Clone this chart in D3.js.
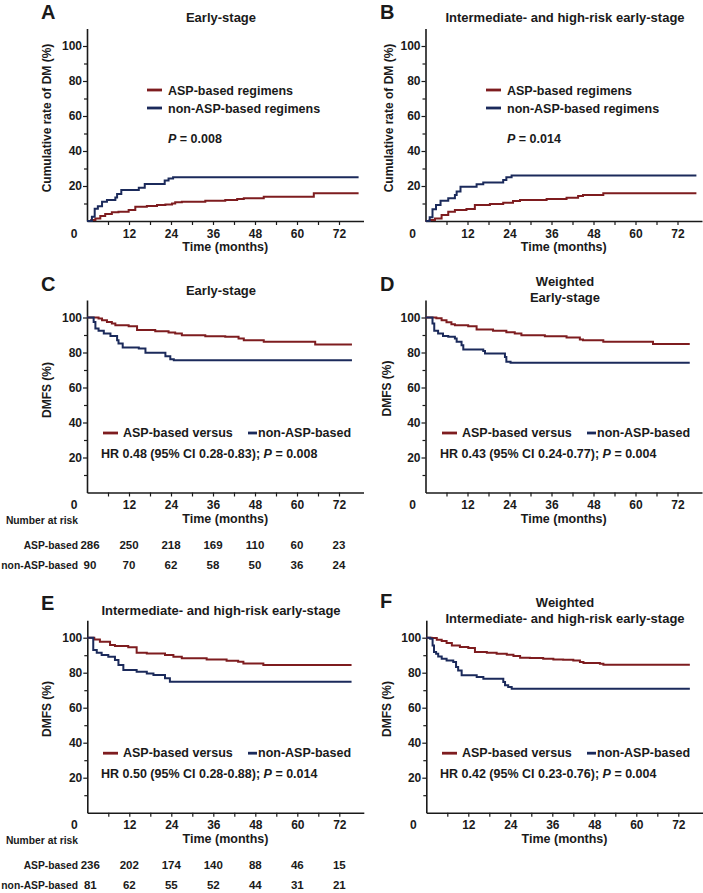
<!DOCTYPE html>
<html>
<head>
<meta charset="utf-8">
<script src="https://cdn.jsdelivr.net/npm/d3@7"></script>
<style>
body { margin: 0; background: #fff; }
svg text { font-family: "Liberation Sans", Arial, sans-serif; font-weight: bold; fill: #1a1a1a; }
</style>
</head>
<body>
<svg id="chart" width="703" height="893"></svg>
<script>
// tick values
const timeTicks = [12, 24, 36, 48, 60, 72];
const timeMinor = [6, 18, 30, 42, 54, 66];
const pctTicks = [20, 40, 60, 80, 100];
const pctMinor = [10, 30, 50, 70, 90];
const riskTimes = [0, 12, 24, 36, 48, 60, 72];

// A: cumulative rate of DM, early-stage
const aAsp = [[0,0],[1.2,0.6],[2.4,1.5],[3.8,2.9],[5.2,4],[7.1,5],[9,5.3],[11.9,6.3],[13.8,8.2],[17.1,8.6],[20,9.1],[22.4,9.5],[24.3,10],[25.2,10.7],[27.1,11],[33.8,11.6],[39.5,12],[42.9,12.6],[44.8,13],[50.5,13.9],[64.8,15.8],[77.6,15.8]];
const aNon = [[0,0],[1.4,2.5],[2.2,7],[3.1,8.5],[4.3,11],[5.7,12],[8.1,13.5],[8.6,15.5],[9.8,17.7],[14.8,19],[16.5,21.2],[22.2,23.2],[23.3,24.3],[24.6,25],[77.6,25]];
// B: cumulative rate of DM, intermediate/high-risk
const bAsp = [[0,0],[1.2,0.6],[2.7,1.5],[4.6,3.4],[6.5,5.3],[8.4,6.3],[11.7,6.9],[14.1,9.1],[18.4,9.7],[22.2,10.5],[25,11.4],[27,12],[34.6,12.6],[40.3,13.3],[43.6,14.3],[45,14.9],[50.8,15.8],[77.4,15.8]];
const bNon = [[0,0],[1.2,2.1],[2,6.7],[3,9.1],[4.3,11.6],[6.5,13],[8.4,14.9],[8.9,16.8],[10,19.6],[14.6,21],[16.5,22],[22.2,23.4],[23.1,25],[24.6,26],[77.4,26]];
// C: DMFS early-stage
const cAsp = [[0,100],[3.3,99.4],[4.3,98.5],[5.7,97.5],[7.1,96.6],[8.1,95.6],[11.9,95],[14.3,92.8],[19.5,92.2],[23.3,91.4],[25.2,90.9],[27.1,89.9],[33.8,89.3],[39.5,89],[43.3,88],[44.8,87],[50.5,86.1],[65.2,84.6],[75.7,84.6]];
const cNon = [[0,100],[1.9,97.5],[2.4,93.7],[3.3,92.4],[4.8,90.9],[6.7,89.5],[8.6,87],[9,85.1],[10.2,82.9],[14.8,82.3],[16.7,79.8],[22.4,77.9],[23.8,76.2],[24.8,75.6],[75.7,75.6]];
// D: weighted DMFS early-stage
const dAsp = [[0,100],[3.1,99.6],[4.6,98.5],[6,97.3],[7.4,96.2],[8.4,95.6],[12.2,95],[14.6,93.1],[19.3,92.4],[23.1,91.6],[25.5,90.9],[27.4,89.9],[34.1,89.3],[40.3,88.6],[44.1,87.4],[45,87],[50.8,86.1],[65,84.8],[75.5,84.8]];
const dNon = [[0,100],[2,96.6],[2.5,92.4],[3.6,90.9],[5,89.5],[6.5,89],[8.4,88],[8.9,86.1],[10.3,84.2],[10.8,81.7],[16.5,80.8],[17,79.4],[22.7,77.5],[23.1,74.7],[24.3,74.1],[75.5,74.1]];
// E: DMFS intermediate/high-risk
const eAsp = [[0,100],[2,99],[3.6,97.7],[6.5,95.8],[7.9,95.2],[11.7,94.5],[14.1,91.4],[17,91],[22.2,90.1],[24.6,89.1],[27,88.2],[34.1,87.6],[39.8,86.9],[43.1,86.3],[44.6,85.3],[50.3,84.4],[75.5,84.4]];
const eNon = [[0,100],[1.7,93],[2.7,91.4],[4.1,90.1],[6,89.1],[7.9,87.2],[8.9,84.4],[10.3,81.5],[14.1,80.6],[17,79.6],[18.9,78.7],[22.2,76.8],[23.6,74.9],[75.5,74.9]];
// F: weighted DMFS intermediate/high-risk
const fAsp = [[0,100],[1.5,99.8],[3,98.9],[4.4,98.1],[5.8,97],[7.3,95.6],[9.6,94.7],[12,94.1],[13.9,91.8],[17.3,91.4],[20.1,90.9],[23,90.3],[24.9,89.5],[26.8,88.6],[29.6,88.4],[33.4,88],[36.3,87.6],[39.1,87.4],[42,87],[43.9,86.1],[44.9,85.5],[49.6,85.1],[50.6,84.6],[75.3,84.6]];
const fNon = [[0,100],[1.1,99.4],[1.8,95.6],[2.2,91.8],[2.8,90.9],[3.4,89.3],[4.4,88],[5.8,87],[7.7,86.1],[8.5,83.2],[9.1,81.3],[10.1,78.5],[14.4,77.5],[16.3,76.6],[22,74.7],[22.5,72.8],[23.4,71.8],[24.4,70.9],[75.3,70.9]];

// numbers at risk
const riskC_asp = [286, 250, 218, 169, 110, 60, 23];
const riskC_non = [90, 70, 62, 58, 50, 36, 24];
const riskE_asp = [236, 202, 174, 140, 88, 46, 15];
const riskE_non = [81, 62, 55, 52, 44, 31, 21];

const RED = "#7e1c1f";
const BLUE = "#1b2a5b";
const INK = "#1a1a1a";

const svg = d3.select("#chart");

function addText(parent, x, y, str, size, anchor) {
    return parent.append("text")
        .attr("x", x).attr("y", y)
        .attr("font-size", size)
        .attr("text-anchor", anchor || "start")
        .text(str);
}

function drawPanel(p) {
    const x = d3.scaleLinear().domain([0, 79]).range([p.left, p.left + 79 * 3.5]);
    const y = d3.scaleLinear().domain([0, 110]).range([p.bottom, p.bottom - 110 * 1.75]);
    const g = svg.append("g");

    // x axis
    g.append("g").attr("transform", `translate(0,${p.bottom})`)
        .call(d3.axisBottom(x).tickValues(timeMinor).tickFormat("").tickSize(4).tickSizeOuter(0))
        .call(a => a.select(".domain").remove());
    const xa = g.append("g").attr("transform", `translate(0,${p.bottom})`)
        .call(d3.axisBottom(x).tickValues(timeTicks).tickSize(4).tickSizeOuter(0).tickPadding(4));
    xa.attr("font-size", 12);
    xa.select(".domain").attr("stroke", INK).attr("stroke-width", 1.6);
    addText(g, p.left - 13, p.bottom + 16.5, "0", 12, "middle");

    // y axis
    g.append("g").attr("transform", `translate(${p.left},0)`)
        .call(d3.axisLeft(y).tickValues(pctMinor).tickFormat("").tickSize(3).tickSizeOuter(0))
        .call(a => a.select(".domain").remove());
    const ya = g.append("g").attr("transform", `translate(${p.left},0)`)
        .call(d3.axisLeft(y).tickValues(pctTicks).tickSize(4).tickSizeOuter(0).tickPadding(1));
    ya.attr("font-size", 12);
    ya.select(".domain").attr("stroke", INK).attr("stroke-width", 1.6);
    g.selectAll(".tick line").attr("stroke", INK).attr("stroke-width", 1.2);
    g.selectAll(".tick text").attr("fill", INK);

    // curves
    const line = d3.line().x(d => x(d[0])).y(d => y(d[1])).curve(d3.curveStepAfter);
    [[p.asp, RED], [p.non, BLUE]].forEach(([data, col]) => {
        g.append("path").datum(data)
            .attr("fill", "none").attr("stroke", col)
            .attr("stroke-width", 2).attr("d", line);
    });

    // labels
    addText(g, p.letterX, p.letterY, p.letter, 20, "start");
    p.title.forEach((t, i) => addText(g, p.titleX, p.titleY + i * 16, t, 13, "middle"));
    addText(g, x(39.5), p.bottom + 30, "Time (months)", 12.5, "middle");
    addText(g, 0, 0, p.yLabel, 12, "middle")
        .attr("x", null).attr("y", null)
        .attr("transform", `translate(${p.yLabelX},${p.yLabelY}) rotate(-90)`);

    return { g, x, y };
}

function legendDash(g, x1, x2, yy, col) {
    g.append("line").attr("x1", x1).attr("x2", x2).attr("y1", yy).attr("y2", yy)
        .attr("stroke", col).attr("stroke-width", 2.8);
}

function pText(g, x, y, prefix, value) {
    const t = g.append("text").attr("x", x).attr("y", y).attr("font-size", 12.5);
    if (prefix) t.append("tspan").text(prefix);
    t.append("tspan").attr("font-style", "italic").text("P");
    t.append("tspan").text(" = " + value);
}

// A & B: cumulative incidence panels with vertical legend
function cumLegend(panel, lx, pval) {
    const g = panel.g;
    legendDash(g, lx, lx + 15, 90, RED);
    addText(g, lx + 21, 95, "ASP-based regimens", 12.5);
    legendDash(g, lx, lx + 15, 108, BLUE);
    addText(g, lx + 21, 113, "non-ASP-based regimens", 12.5);
    pText(g, lx + 21, 142.7, "", pval);
}

// C-F: survival panels with inline legend + HR line
function hrLegend(panel, lx, bx, hr, pval, bottom) {
    const g = panel.g;
    const ly = bottom - 59.5;
    legendDash(g, lx, lx + 15, ly, RED);
    addText(g, lx + 20, bottom - 55.4, "ASP-based versus", 12.5);
    legendDash(g, bx, bx + 9, ly, BLUE);
    addText(g, bx + 10, bottom - 55.4, "non-ASP-based", 12.5);
    pText(g, lx - 2, bottom - 34.4, hr + " ", pval);
}

function riskTable(panel, topY, aspRow, nonRow) {
    const g = panel.g;
    addText(g, 78, topY, "Number at risk", 10.3, "end");
    addText(g, 78, topY + 25, "ASP-based", 10.3, "end");
    addText(g, 78, topY + 45, "non-ASP-based", 10.3, "end");
    const pos = t => t === 0 ? panel.x(0) + 3 : panel.x(t);
    riskTimes.forEach((t, i) => {
        addText(g, pos(t), topY + 25, aspRow[i], 11.5, "middle");
        addText(g, pos(t), topY + 45, nonRow[i], 11.5, "middle");
    });
}

const pA = drawPanel({ left: 87, bottom: 221, asp: aAsp, non: aNon, letter: "A", letterX: 41, letterY: 18.5,
    title: ["Early-stage"], titleX: 221, titleY: 21.7, yLabel: "Cumulative rate of DM (%)", yLabelX: 51, yLabelY: 118 });
cumLegend(pA, 147, "0.008");

const pB = drawPanel({ left: 425.5, bottom: 221, asp: bAsp, non: bNon, letter: "B", letterX: 380, letterY: 18.5,
    title: ["Intermediate- and high-risk early-stage"], titleX: 565, titleY: 21.7, yLabel: "Cumulative rate of DM (%)", yLabelX: 393, yLabelY: 118 });
cumLegend(pB, 486, "0.014");

const pC = drawPanel({ left: 87, bottom: 492.5, asp: cAsp, non: cNon, letter: "C", letterX: 41, letterY: 290.7,
    title: ["Early-stage"], titleX: 221, titleY: 295, yLabel: "DMFS (%)", yLabelX: 51, yLabelY: 390 });
hrLegend(pC, 103, 248, "HR 0.48 (95% CI 0.28-0.83);", "0.008", 492.5);
riskTable(pC, 524.3, riskC_asp, riskC_non);

const pD = drawPanel({ left: 425.5, bottom: 492.5, asp: dAsp, non: dNon, letter: "D", letterX: 380, letterY: 290.7,
    title: ["Weighted", "Early-stage"], titleX: 565, titleY: 286, yLabel: "DMFS (%)", yLabelX: 391, yLabelY: 388.5 });
hrLegend(pD, 442, 587, "HR 0.43 (95% CI 0.24-0.77);", "0.004", 492.5);

const pE = drawPanel({ left: 87.3, bottom: 812.7, asp: eAsp, non: eNon, letter: "E", letterX: 41, letterY: 610,
    title: ["Intermediate- and high-risk early-stage"], titleX: 221, titleY: 615, yLabel: "DMFS (%)", yLabelX: 51, yLabelY: 709 });
hrLegend(pE, 103, 248, "HR 0.50 (95% CI 0.28-0.88);", "0.014", 812.7);
riskTable(pE, 844, riskE_asp, riskE_non);

const pF = drawPanel({ left: 426.3, bottom: 812.7, asp: fAsp, non: fNon, letter: "F", letterX: 380, letterY: 608.3,
    title: ["Weighted", "Intermediate- and high-risk early-stage"], titleX: 565, titleY: 606.7, yLabel: "DMFS (%)", yLabelX: 391, yLabelY: 709 });
hrLegend(pF, 442, 587, "HR 0.42 (95% CI 0.23-0.76);", "0.004", 812.7);
</script>
</body>
</html>
